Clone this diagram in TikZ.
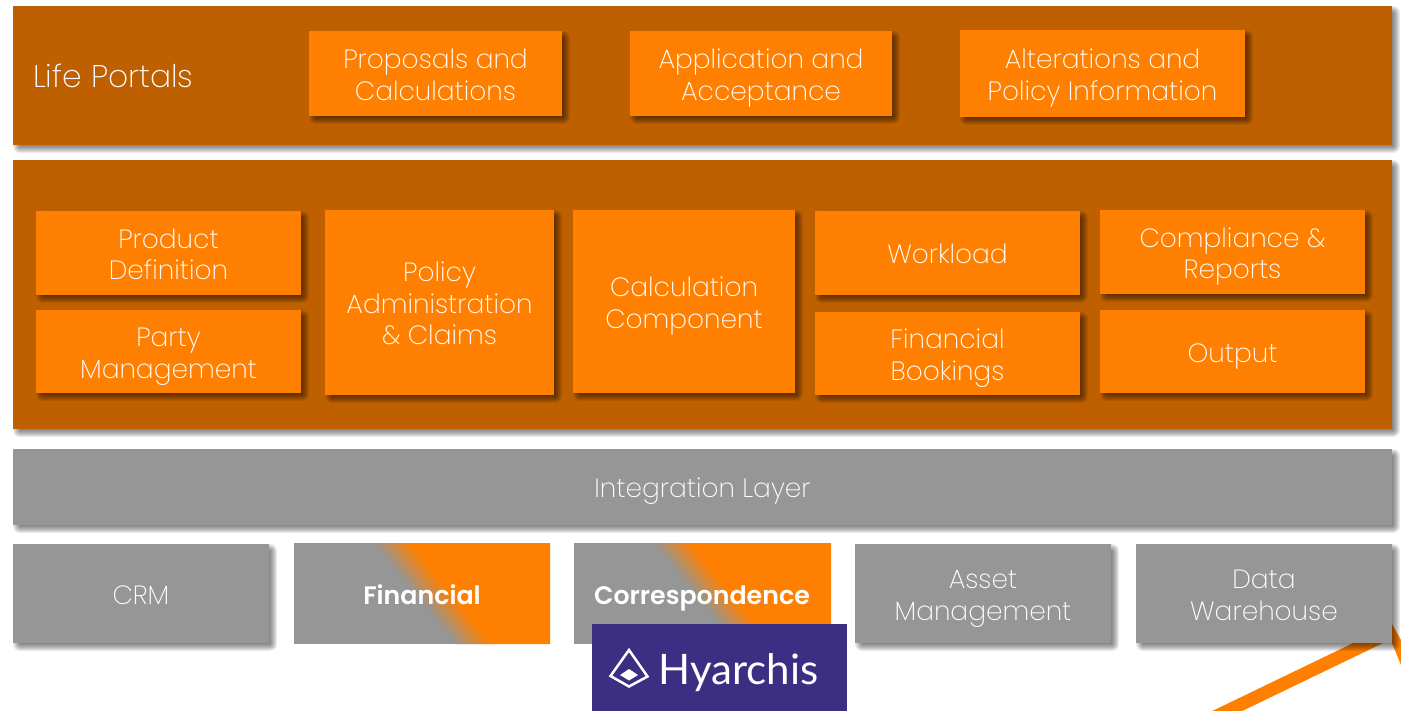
\documentclass[tikz,border=0pt]{standalone}
\usepackage{fontspec}
\setmainfont{Poppins ExtraLight}[BoldFont={Poppins SemiBold}]
\newfontfamily\logofont{Lato}
\definecolor{brownbar}{RGB}{191,96,0}
\definecolor{orangebox}{RGB}{255,128,0}
\definecolor{graybox}{RGB}{150,150,150}
\definecolor{hyarchis}{RGB}{60,46,130}
\tikzset{
  x=1pt,y=-1pt,
  boxbase/.style={inner sep=0pt,align=center,text=white,font=\fontsize{26.4}{31.6}\selectfont,
    execute at begin node={\rule{0pt}{28pt}},execute at end node={\rule[-6pt]{0pt}{6pt}}},
  orangecell/.style={boxbase,fill=orangebox},
  brownpanel/.style={boxbase,fill=brownbar},
  graycell/.style={boxbase,fill=graybox},
  boldlabel/.style={boxbase,font=\bfseries\fontsize{25.3}{30}\selectfont},
  flowband/.style={draw=orangebox,line width=13pt},
}
% several centred lines, kept at a fixed height against the box centre
\newcommand{\mline}[1]{\raisebox{0.2pt}[0pt][0pt]{\begin{tabular}{@{}c@{}}#1\end{tabular}}}
% soft drop shadow, drawn before a box
\newcommand{\softshadow}[4]{%
  \foreach \g in {7,6,5,4,3,2,1,0}{%
    \fill[black,opacity=.075,rounded corners=\g pt]
      (#1+7-\g,#2+7-\g) rectangle (#3+1+\g,#4+1+\g);}}
% name, x1, y1, x2, y2, style, text
\newcommand{\boxat}[7]{%
  \softshadow{#2}{#3}{#4}{#5}%
  \node[#6,minimum width=#4pt-#2pt,minimum height=#5pt-#3pt] (#1) at ({(#2+#4)/2},{(#3+#5)/2}) {#7};}
\newcommand{\flatbox}[7]{%
  \node[#6,minimum width=#4pt-#2pt,minimum height=#5pt-#3pt] (#1) at ({(#2+#4)/2},{(#3+#5)/2}) {#7};}
% gray-to-orange diagonal: x1, x2, x at top where the blend starts
\newcommand{\twotone}[3]{%
  \begin{scope}
    \clip (#1,543) rectangle (#2,644);
    \fill[orangebox] (#3+37,543) -- (#2,543) -- (#2,644) -- (#3+37+82,644) -- cycle;
    \foreach \i in {0,...,37}{%
      \pgfmathsetmacro{\pct}{\i*100/37}%
      \fill[orangebox!\pct!graybox] (#3+\i,543) -- (#3+\i+1.6,543) -- (#3+\i+1.6+82,644) -- (#3+\i+82,644) -- cycle;}
  \end{scope}}
\begin{document}
\begin{tikzpicture}
\useasboundingbox (0,0) rectangle (1401,711);
\fill[white] (0,0) rectangle (1401,711);
% connector behind the data warehouse box
\coordinate (flowstart) at (1192,728);
\coordinate (flowend) at (1385,634.9);
\draw[flowband] (flowstart) -- (flowend);
\fill[orangebox] (1392,624) -- (1401,640) -- (1401,665) -- (1392,643) -- cycle;
% panels
\boxat{portalpanel}{13}{6}{1392}{145}{brownpanel}{}
\boxat{corepanel}{13}{160}{1392}{429}{brownpanel}{}
\node[boxbase,font=\fontsize{31.3}{36}\selectfont,anchor=west] (lifeportals) at (33,77) {Life Portals};
% portal boxes
\boxat{proposals}{309}{31}{562}{116}{orangecell}{\mline{Proposals and\\Calculations}}
\boxat{application}{630}{31}{892}{116}{orangecell}{\mline{Application and\\Acceptance}}
\boxat{alterations}{960}{30}{1245}{117}{orangecell}{\mline{Alterations and\\Policy Information}}
% core boxes
\boxat{product}{36}{211}{301}{295}{orangecell}{\mline{Product\\Definition}}
\boxat{party}{36}{310}{301}{393}{orangecell}{\mline{Party\\Management}}
\boxat{policy}{325}{210}{554}{395}{orangecell}{\mline{Policy\\Administration\\\& Claims}}
\boxat{calculation}{573}{210}{795}{393}{orangecell}{\mline{Calculation\\Component}}
\boxat{workload}{815}{211}{1080}{295}{orangecell}{Workload}
\boxat{bookings}{815}{312}{1080}{395}{orangecell}{\mline{Financial\\Bookings}}
\boxat{compliance}{1100}{210}{1365}{294}{orangecell}{\mline{Compliance \&\\Reports}}
\boxat{output}{1100}{310}{1365}{393}{orangecell}{Output}
% integration
\boxat{integration}{13}{449}{1392}{525}{graycell}{Integration Layer}
% bottom row
\boxat{crm}{13}{544}{269}{643}{graycell}{CRM}
\boxat{asset}{855}{544}{1111}{643}{graycell}{\mline{Asset\\Management}}
\boxat{warehouse}{1136}{544}{1392}{643}{graycell}{\mline{Data\\Warehouse}}
% two-colour boxes
\flatbox{financialbg}{294}{543}{550}{644}{graycell}{}
\twotone{294}{550}{372.5}
\node[boldlabel] (financial) at (422,593.5) {Financial};
\flatbox{correspbg}{574}{543}{831}{644}{graycell}{}
\twotone{574}{831}{652.5}
\node[boldlabel] (correspondence) at (702,593.5) {Correspondence};
% logo
\node[fill=hyarchis,inner sep=0pt,minimum width=255pt,minimum height=87pt] (logobg) at (719.5,667.5) {};
\draw[white,line width=2.5pt,line join=miter] (629,650) -- (647.5,676.5) -- (629,686.5) -- (610.5,676) -- cycle;
\fill[white] (629,669) -- (638,675) -- (629,680.5) -- (620,675) -- cycle;
\node[text=white,inner sep=0pt,font=\logofont\fontsize{42}{50}\selectfont,anchor=base west] (hyarchistext) at (658.5,684) {Hyarchis};
\end{tikzpicture}
\end{document}
